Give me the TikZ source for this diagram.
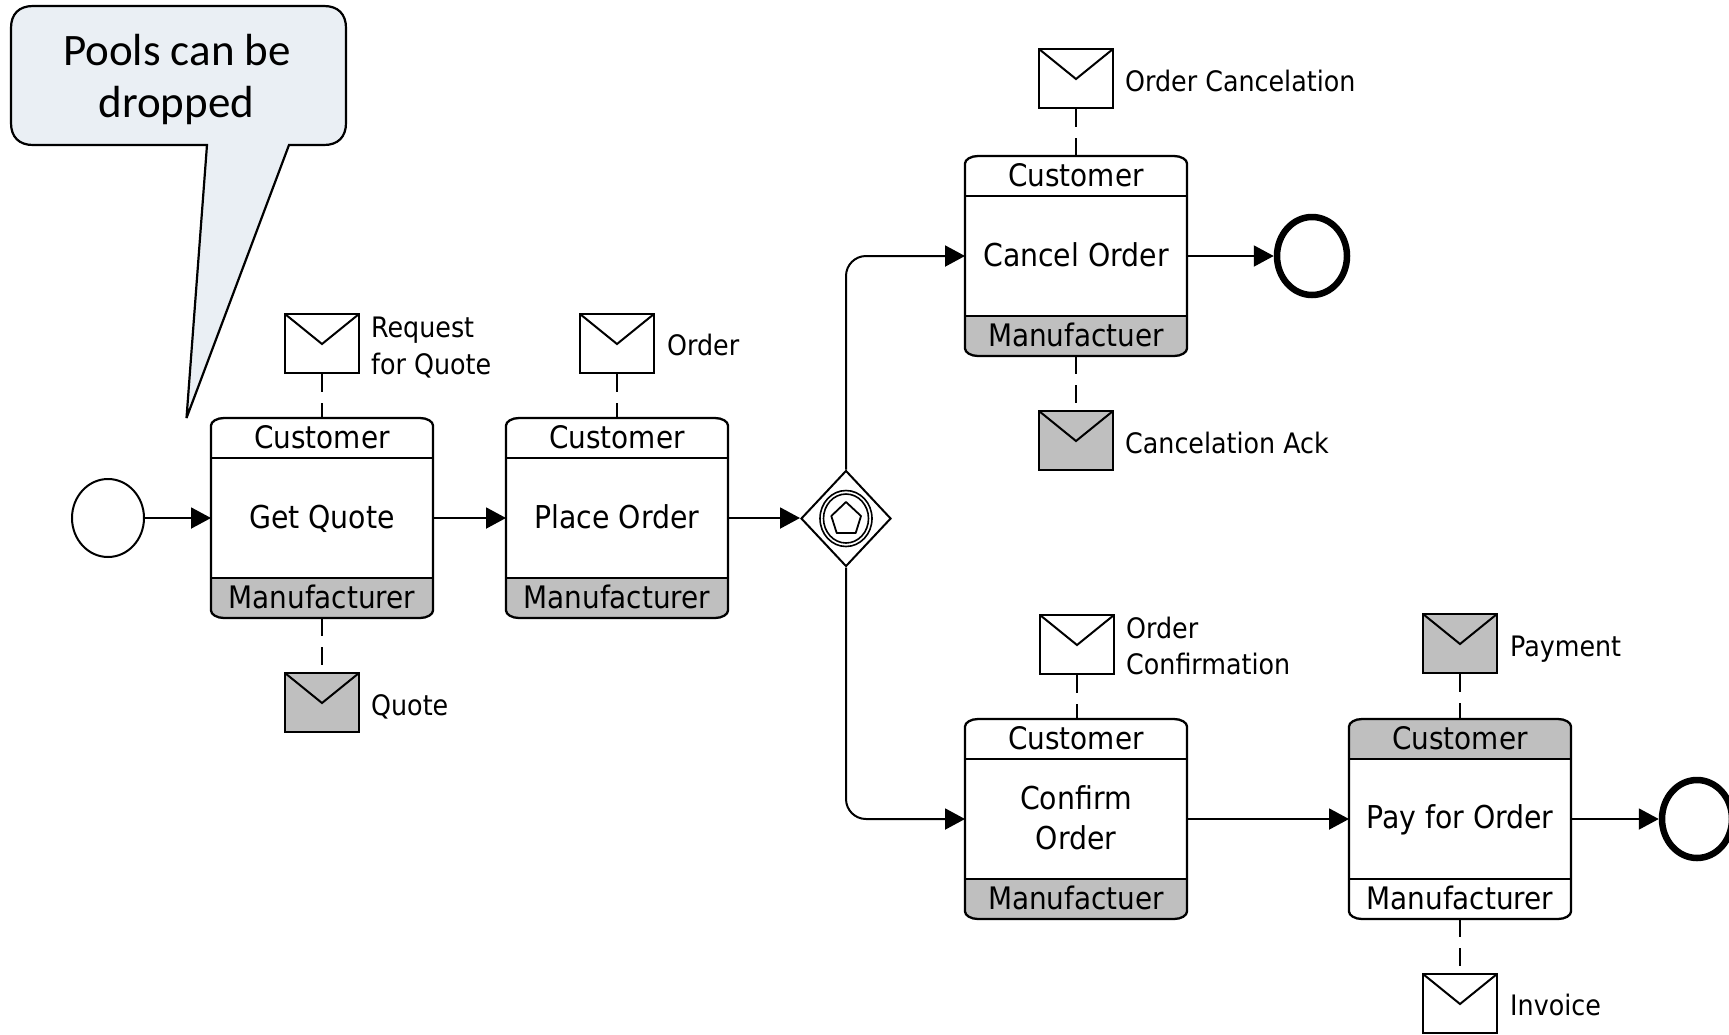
\documentclass[tikz,border=0pt]{standalone}
\usepackage{fontspec}
\setmainfont{DejaVu Sans Condensed}
\newfontfamily\calloutfont{Carlito}
\usetikzlibrary{shapes.geometric,arrows.meta}
\definecolor{msggray}{HTML}{BFBFBF}
\definecolor{calloutfill}{HTML}{EAEFF4}
\newdimen\softxa \newdimen\softxb \newdimen\softya \newdimen\softyb
\makeatletter
\pgfdeclareshape{softrect}{
  \inheritsavedanchors[from=rectangle]
  \inheritanchorborder[from=rectangle]
  \inheritanchor[from=rectangle]{center}
  \inheritanchor[from=rectangle]{text}
  \inheritanchor[from=rectangle]{base}
  \inheritanchor[from=rectangle]{north}
  \inheritanchor[from=rectangle]{south}
  \inheritanchor[from=rectangle]{east}
  \inheritanchor[from=rectangle]{west}
  \backgroundpath{
    \southwest \softxa=\pgf@x \softya=\pgf@y
    \northeast \softxb=\pgf@x \softyb=\pgf@y
    \pgfpathmoveto{\pgfpoint{\softxa+13pt}{\softya}}
    \pgfpathlineto{\pgfpoint{\softxb-13pt}{\softya}}
    \pgfpathcurveto{\pgfpoint{\softxb-6pt}{\softya}}{\pgfpoint{\softxb}{\softya+3.5pt}}{\pgfpoint{\softxb}{\softya+7.5pt}}
    \pgfpathlineto{\pgfpoint{\softxb}{\softyb-7.5pt}}
    \pgfpathcurveto{\pgfpoint{\softxb}{\softyb-3.5pt}}{\pgfpoint{\softxb-6pt}{\softyb}}{\pgfpoint{\softxb-13pt}{\softyb}}
    \pgfpathlineto{\pgfpoint{\softxa+13pt}{\softyb}}
    \pgfpathcurveto{\pgfpoint{\softxa+6pt}{\softyb}}{\pgfpoint{\softxa}{\softyb-3.5pt}}{\pgfpoint{\softxa}{\softyb-7.5pt}}
    \pgfpathlineto{\pgfpoint{\softxa}{\softya+7.5pt}}
    \pgfpathcurveto{\pgfpoint{\softxa}{\softya+3.5pt}}{\pgfpoint{\softxa+6pt}{\softya}}{\pgfpoint{\softxa+13pt}{\softya}}
    \pgfpathclose
  }
}
\makeatother
\tikzset{
  flow/.style={line width=2pt,-{Triangle[length=20pt,width=21pt]}},
  msgflow/.style={line width=2pt,dash pattern=on 18pt off 11pt},
  taskbox/.style={softrect,draw,line width=2.3pt,outer sep=0pt,minimum width=222pt,minimum height=200pt,inner sep=0pt,align=center,font=\fontsize{31.5}{40}\selectfont},
  partlabel/.style={anchor=base,inner sep=0pt,font=\fontsize{31}{32}\selectfont},
  envelope/.style={draw,line width=2pt,minimum width=74pt,minimum height=59pt,inner sep=0pt,anchor=north,
    path picture={\draw[line width=2pt] (path picture bounding box.north west) -- ([yshift=-30pt]path picture bounding box.north) -- (path picture bounding box.north east);}},
  msglabel/.style={inner sep=0pt,align=left,font=\fontsize{28.2}{36.5}\selectfont},
  startev/.style={draw,ellipse,line width=2pt,minimum width=72pt,minimum height=78pt,inner sep=0pt},
  endev/.style={draw,ellipse,line width=6.5pt,minimum width=70pt,minimum height=78pt,inner sep=0pt},
  calloutlabel/.style={inner sep=0pt,anchor=base,font=\calloutfont\fontsize{45}{46}\selectfont},
}
\newcommand\mstrut{\rule[-6pt]{0pt}{32pt}}
% id, cx, cy, main text, header fill, footer fill, footer label
\newcommand\bpmntask[7]{%
  \node[taskbox,path picture={
      \fill[#5] (path picture bounding box.north west) rectangle ([yshift=-40pt]path picture bounding box.north east);
      \fill[#6] ([yshift=40pt]path picture bounding box.south west) rectangle (path picture bounding box.south east);
      \draw[line width=2.3pt] ([yshift=-40pt]path picture bounding box.north west) -- ([yshift=-40pt]path picture bounding box.north east);
      \draw[line width=2.3pt] ([yshift=40pt]path picture bounding box.south west) -- ([yshift=40pt]path picture bounding box.south east);
    }] (#1) at (#2,#3) {#4};
  \node[partlabel] (#1h) at (#2,#3-70) {Customer};
  \node[partlabel] (#1f) at (#2,#3+90) {#7};
}
\begin{document}
\begin{tikzpicture}[x=1pt,y=-1pt]
\useasboundingbox (0,0) rectangle (1729,1034);
\fill[white] (0,0) rectangle (1729,1034);
% callout
\draw[line width=2.2pt,fill=calloutfill,line join=miter,miter limit=4]
  (207,145) -- (186.5,418) -- (289,145) -- (324,145)
  .. controls (338,145) and (346,137) .. (346,123) -- (346,28)
  .. controls (346,14) and (338,6) .. (324,6) -- (33,6)
  .. controls (19,6) and (11,14) .. (11,28) -- (11,123)
  .. controls (11,137) and (19,145) .. (33,145) -- cycle;
\node[calloutlabel] (callouttop) at (177,65) {Pools can be};
\node[calloutlabel] (calloutbot) at (176.5,117) {dropped};
% events
\node[startev] (start) at (108,518) {};
\node[endev] (end1) at (1312,256) {};
\node[endev] (end2) at (1697,819) {};
% tasks
\bpmntask{t1}{322}{518}{\mstrut Get Quote}{white}{msggray}{Manufacturer}
\bpmntask{t2}{617}{518}{\mstrut Place Order}{white}{msggray}{Manufacturer}
\bpmntask{t3}{1076}{256}{\mstrut Cancel Order}{white}{msggray}{Manufactuer}
\bpmntask{t4}{1076}{819}{\mstrut Confirm\\\mstrut Order}{white}{msggray}{Manufactuer}
\bpmntask{t5}{1460}{819}{\mstrut Pay for Order}{msggray}{white}{Manufacturer}
% gateway
\node[draw,diamond,line width=2pt,minimum width=90pt,minimum height=96pt,inner sep=0pt,aspect=0.94] (gw) at (846,518.5) {};
\node[draw,ellipse,line width=1.6pt,minimum width=52pt,minimum height=56pt,inner sep=0pt] (gwo) at (846,518.5) {};
\node[draw,ellipse,line width=1.6pt,minimum width=45pt,minimum height=49pt,inner sep=0pt] (gwi) at (846,518.5) {};
\draw[line width=1.8pt,line join=round] (846,502) -- (861,516) -- (855.7,533) -- (836.7,533) -- (831.3,516) -- cycle;
% envelopes
\node[envelope,fill=white] (e1) at (322,313) {};
\node[envelope,fill=msggray] (e2) at (322,672) {};
\node[envelope,fill=white] (e3) at (617,313) {};
\node[envelope,fill=white] (e4) at (1076,48) {};
\node[envelope,fill=msggray] (e5) at (1076,410) {};
\node[envelope,fill=white] (e6) at (1077,614) {};
\node[envelope,fill=msggray] (e7) at (1460,613) {};
\node[envelope,fill=white] (e8) at (1460,973) {};
% labels
\node[msglabel,anchor=west] (l1) at (371,347.5) {Request\\for Quote};
\node[msglabel,anchor=base west] (l2) at (371,715) {Quote};
\node[msglabel,anchor=base west] (l3) at (667,355) {Order};
\node[msglabel,anchor=base west] (l4) at (1125,91) {Order Cancelation};
\node[msglabel,anchor=base west] (l5) at (1125,453) {Cancelation Ack};
\node[msglabel,anchor=west] (l6) at (1126,646) {Order\\Confirmation};
\node[msglabel,anchor=base west] (l7) at (1510,656) {Payment};
\node[msglabel,anchor=base west] (l8) at (1510,1015) {Invoice};
% flows
\draw[flow] (start) -- (t1);
\draw[flow] (t1) -- (t2);
\draw[flow] (t2.east) -- (t2.east -| gw.west);
\draw[flow,rounded corners=20pt] (gw.north) |- (t3.west);
\draw[flow,rounded corners=20pt] (gw.south) |- (t4.west);
\draw[flow] (t3.east) -- (end1.west);
\draw[flow] (t4.east) -- (t5.west);
\draw[flow] (t5.east) -- (end2.west);
% message flows
\draw[msgflow] (e1.south) -- (t1.north);
\draw[msgflow] (t1.south) -- (e2.north);
\draw[msgflow] (e3.south) -- (t2.north);
\draw[msgflow] (e4.south) -- (t3.north);
\draw[msgflow] (t3.south) -- (e5.north);
\draw[msgflow] (e6.south) -- (e6.south |- t4.north);
\draw[msgflow] (e7.south) -- (t5.north);
\draw[msgflow] (t5.south) -- (e8.north);
\end{tikzpicture}
\end{document}
